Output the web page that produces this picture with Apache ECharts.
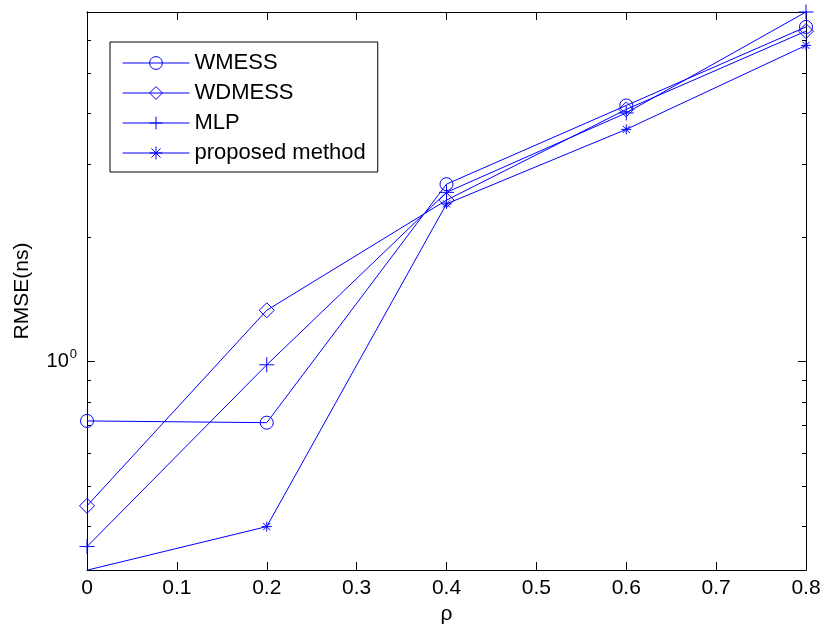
<!DOCTYPE html>
<html>
<head>
<meta charset="utf-8">
<script src="https://cdn.jsdelivr.net/npm/echarts@6/dist/echarts.min.js"></script>
<style>html,body{margin:0;padding:0;background:#fff;}#c{width:825px;height:631px;}</style>
</head>
<body>
<div id="c"></div>
<script>
// ---- data ----
var xValues = [0, 0.2, 0.4, 0.6, 0.8];
var wmess = [0.719, 0.712, 2.69, 4.17, 6.46];
var wdmess = [0.448, 1.332, 2.46, 4.08, 6.31];
var mlp = [0.357, 0.983, 2.57, 4.00, 7.02];
var proposed = [0.313, 0.399, 2.41, 3.65, 5.83];
var seriesNames = ['WMESS', 'WDMESS', 'MLP', 'proposed method'];
var yMajorTicks = [1];
var yMinorTicks = [0.4, 0.5, 0.6, 0.7, 0.8, 0.9, 2, 3, 4, 5, 6, 7];
var yMin = 0.3133, yMax = 7.02;

var FONT = 'Liberation Sans';
var BLUE = '#0000ff';

function pairs(ys) { return xValues.map(function (x, i) { return [x, ys[i]]; }); }

var symbols = {
  circle: 'path://M1,0A1,1 0 1 1 -1,0A1,1 0 1 1 1,0Z',
  diamond: 'path://M0,-1L1,0L0,1L-1,0Z',
  plus: 'path://M0,-1L0,1M-1,0L1,0',
  star: 'path://M0,-1L0,1M-1,0L1,0M-0.72,-0.72L0.72,0.72M-0.72,0.72L0.72,-0.72'
};

function mkSeries(name, data, sym, size) {
  return {
    name: name, type: 'line', data: pairs(data),
    xAxisIndex: 0, yAxisIndex: 0,
    symbol: sym, symbolSize: size, showSymbol: true,
    lineStyle: { color: BLUE, width: 1 },
    itemStyle: { color: 'none', borderColor: BLUE, borderWidth: 1 },
    emphasis: { disabled: true },
    animation: false
  };
}

function yAx(pos, ticks, len, withLabel) {
  return {
    type: 'log', logBase: 10, min: yMin, max: yMax, position: pos,
    axisLine: { show: true, lineStyle: { color: '#000', width: 1 } },
    axisTick: { show: true, inside: true, length: len, customValues: ticks, lineStyle: { color: '#000' } },
    axisLabel: withLabel ? {
      show: true, customValues: ticks, margin: 10, color: '#000',
      formatter: function () { return '{a|10}{b|0}'; },
      rich: {
        a: { fontSize: 20, fontFamily: FONT, color: '#000' },
        b: { fontSize: 13, fontFamily: FONT, color: '#000', padding: [0, 0, 14, 1] }
      }
    } : { show: false },
    splitLine: { show: false },
    minorTick: { show: false }
  };
}

var chart = echarts.init(document.getElementById('c'), null, { renderer: 'canvas' });
var yAxes = [yAx('left', yMajorTicks, 8, true), yAx('left', yMinorTicks, 4, false), yAx('right', yMajorTicks, 8, false), yAx('right', yMinorTicks, 4, false)];
yAxes[0].name = 'RMSE(ns)';
yAxes[0].nameLocation = 'middle';
yAxes[0].nameGap = 54;
yAxes[0].nameTextStyle = { fontSize: 21, fontFamily: FONT, color: '#000' };

chart.setOption({
  animation: false,
  backgroundColor: '#fff',
  grid: { left: 87, right: 19, top: 12, bottom: 61, containLabel: false },
  legend: {
    orient: 'vertical', left: 110, top: 42,
    data: seriesNames,
    borderColor: '#000', borderWidth: 1, backgroundColor: '#fff',
    padding: [10, 12, 8, 12],
    itemWidth: 67, itemHeight: 16, itemGap: 8,
    lineStyle: { width: 1 },
    itemStyle: { borderWidth: 1 },
    textStyle: { fontSize: 22, fontFamily: FONT, color: '#000', lineHeight: 22 },
    selectedMode: false
  },
  xAxis: [{
    type: 'value', min: 0, max: 0.8, interval: 0.1, position: 'bottom',
    axisLine: { show: true, lineStyle: { color: '#000', width: 1 } },
    axisTick: { show: true, inside: true, length: 8, lineStyle: { color: '#000' } },
    axisLabel: { fontSize: 21, fontFamily: FONT, color: '#000', margin: 8 },
    splitLine: { show: false },
    name: 'ρ', nameLocation: 'middle', nameGap: 34,
    nameTextStyle: { fontSize: 21, fontFamily: FONT, color: '#000' }
  }, {
    type: 'value', min: 0, max: 0.8, interval: 0.1, position: 'top',
    axisLine: { show: true, lineStyle: { color: '#000', width: 1 } },
    axisTick: { show: true, inside: true, length: 8, lineStyle: { color: '#000' } },
    axisLabel: { show: false },
    splitLine: { show: false }
  }],
  yAxis: yAxes,
  series: [
    mkSeries(seriesNames[0], wmess, symbols.circle, 13),
    mkSeries(seriesNames[1], wdmess, symbols.diamond, 15),
    mkSeries(seriesNames[2], mlp, symbols.plus, 15),
    mkSeries(seriesNames[3], proposed, symbols.star, 10)
  ]
});
</script>
</body>
</html>
